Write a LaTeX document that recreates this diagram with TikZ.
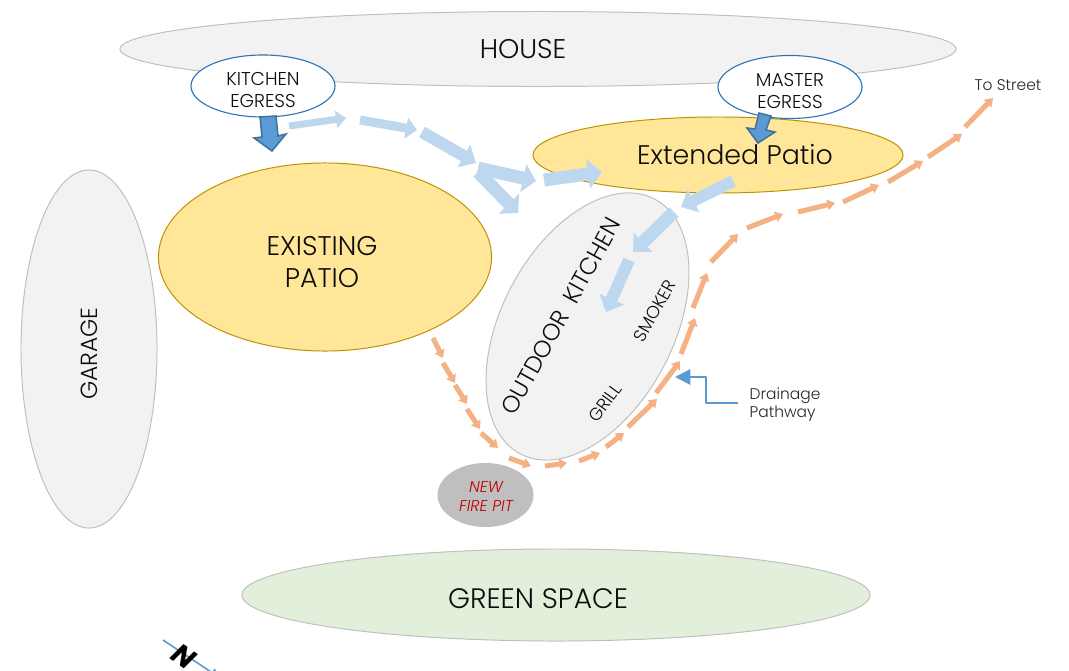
\documentclass[tikz,border=0pt]{standalone}
\usepackage{fontspec}
\setmainfont{Poppins}[UprightFont=* Light,ItalicFont=* Light Italic,BoldItalicFont=* Bold Italic]
\usepackage{xcolor}
\usetikzlibrary{shapes.geometric,arrows.meta}
\definecolor{houseGray}{HTML}{F2F2F2}
\definecolor{edgeGray}{HTML}{BFBFBF}
\definecolor{patioFill}{HTML}{FFE699}
\definecolor{patioEdge}{HTML}{BF9000}
\definecolor{lawnFill}{HTML}{E2EFDA}
\definecolor{egressEdge}{HTML}{2E75B6}
\definecolor{walkBlue}{HTML}{BDD7EE}
\definecolor{exitFill}{HTML}{5B9BD5}
\definecolor{exitEdge}{HTML}{41719C}
\definecolor{drainOrange}{HTML}{F4B183}
\definecolor{fireRed}{HTML}{C00000}
\tikzset{
	area/.style={ellipse, draw=edgeGray, fill=houseGray, line width=0.7pt, inner sep=0pt},
	patio/.style={area, draw=patioEdge, fill=patioFill},
	egress/.style={area, draw=egressEdge, fill=white, line width=0.8pt},
	pxsize/.style 2 args={minimum width=#1*0.7113pt, minimum height=#2*0.7113pt},
	bigtxt/.style={font=\fontsize{19.2}{23}\selectfont, align=center, text=black!95},
	midtxt/.style={font=\fontsize{13.2}{15.6}\selectfont, align=center, text=black!95},
	smalltxt/.style={font=\fontsize{11}{12.8}\selectfont, align=left, text=black!85},
	exitarrow/.style={fill=exitFill, draw=exitEdge, line width=1.1pt, line join=miter}
}
\begin{document}
\begin{tikzpicture}[
	x=0.025cm,y=-0.025cm,
	line join=round
	]
	% ---- page
	\useasboundingbox (0,0) rectangle (1069,670);
	
	% ---- areas (px of the plan, y downwards)
	\node[area, pxsize={836}{75}] (house) at (538,49) {};
	\node[area, pxsize={136}{358}] (garage) at (89,349) {};
	\node[area, fill=lawnFill, pxsize={628}{92}] (green) at (556,595) {};
	\node[patio, pxsize={333}{188}] (existing) at (325,257) {};
	\node[patio, pxsize={370}{76}] (extended) at (718,155) {};
	\node[area, pxsize={172}{288}, rotate=-27.8] (outdoor) at (587.5,326.5) {};
	\node[area, draw=edgeGray, fill=edgeGray, pxsize={95}{63}] (firepit) at (485.5,495) {};
	
	% ---- labels
	\node[bigtxt] (houseTxt) at (523,49) {HOUSE};
	\node[bigtxt] (existingTxt) at (322,262) {EXISTING\\PATIO};
	\node[bigtxt, font=\fontsize{19.1}{23}\selectfont] (extendedTxt) at (735,155) {Extended Patio};
	\node[bigtxt, font=\fontsize{20}{24}\selectfont] (greenTxt) at (538,599) {GREEN SPACE};
	\node[bigtxt, font=\fontsize{16.8}{20}\selectfont, rotate=61] (outdoorTxt) at (561,316) {OUTDOOR\ \ KITCHEN};
	\node[midtxt, font=\fontsize{16.6}{20}\selectfont, rotate=90] (garageTxt) at (89,353.5) {GARAGE};
	\node[midtxt, font=\fontsize{12.5}{15}\selectfont, rotate=61] (smokerTxt) at (655,311) {SMOKER};
	\node[midtxt, font=\fontsize{12.5}{15}\selectfont, rotate=54] (grillTxt) at (605,403) {GRILL};
	\node[smalltxt, text=fireRed, align=center, font=\fontsize{11.2}{13.5}\selectfont\itshape] (fireTxt) at (486,496) {NEW\\FIRE PIT};
	\node[smalltxt] (streetTxt) at (1008,85) {To Street};
	\node[smalltxt] (drainTxt) at (785,405) {Drainage\\Pathway};
	
	% ---- walking route, light blue
	\foreach \i/\xa/\ya/\xb/\yb/\w/\h/\l in {
		1/289/126/346/118/7/17/10,
		2/360/120/417/130/9/21/11,
		3/422/132/476/163/12/25/14,
		4/478/168/536/181/13/28/13,
		5/478/172/518/213/13/28/13,
		6/544/180/602/172/13/29/14,
		7/733/181/681/207/12/25/14,
		8/674/212/633/252/13/26/14,
		9/629/260/606/312/12/26/14}{
		\coordinate (walkA\i) at (\xa,\ya);
		\coordinate (walkB\i) at (\xb,\yb);
		\pgfmathsetlengthmacro{\hw}{\h*0.7113pt}
		\pgfmathsetlengthmacro{\hl}{\l*0.7113pt}
		\draw[walkBlue, line width=\w*0.7113pt, -{Triangle[length=\hl,width=\hw]}] (walkA\i) -- (walkB\i);
	}
	
	% ---- drainage route, orange
	\foreach \i/\xa/\ya/\xb/\yb in {
		1/433/338/443/358, 2/443/363/455/383, 3/455/385/467/404, 4/467/409/480/429,
		5/481/433/498/448, 6/509/458/531/466, 7/545/466/567/463, 8/579/461/600/453,
		9/606/447/624/433, 10/628/427/657/399, 11/656/393/680/361, 12/681/354/695/318,
		13/693/308/707/273, 14/711/262/738/234, 15/747/228/783/214, 16/798/212/835/203,
		17/843/202/879/185, 18/888/182/923/161, 19/928/157/962/134, 20/965/127/993/98}{
		\coordinate (drainA\i) at (\xa,\ya);
		\coordinate (drainB\i) at (\xb,\yb);
		\draw[drainOrange, line width=3.6pt, -{Triangle[length=5.5pt,width=7.5pt]}] (drainA\i) -- (drainB\i);
	}
	
	% ---- egress ellipses + arrows
	\node[egress, pxsize={144}{62}] (kitchen) at (263,86) {};
	\node[egress, pxsize={144}{63}] (master) at (790,87) {};
	\node[midtxt] (kitchenTxt) at (263,90) {KITCHEN\\EGRESS};
	\node[midtxt] (masterTxt) at (790,91) {MASTER\\EGRESS};
	\draw[exitarrow] (260,117) -- (276,116) -- (278,136) -- (286,134) -- (272,151) -- (254,138) -- (262,137) -- cycle;
	\draw[exitarrow] (759,113) -- (771,116) -- (766,130) -- (775,132) -- (758,143) -- (747,128) -- (755,129) -- cycle;
	
	% ---- pointer to the drainage label
	\coordinate (pointerA) at (738,403);
	\coordinate (pointerB) at (675,377);
	\draw[exitFill, line width=1.5pt, -{Triangle[length=11pt,width=11pt]}] (pointerA) -- (706,403) -- (706,377) -- (pointerB);
	
	% ---- north mark
	\coordinate (northA) at (163,640);
	\coordinate (northB) at (220,678);
	\draw[exitFill, line width=1.1pt, -{Triangle[length=7pt,width=7pt]}] (northA) -- (northB);
	\node[font=\fontsize{20}{20}\selectfont\bfseries\itshape, rotate=-35, inner sep=0pt] (northTxt) at (184,656) {N};
\end{tikzpicture}
\end{document}
